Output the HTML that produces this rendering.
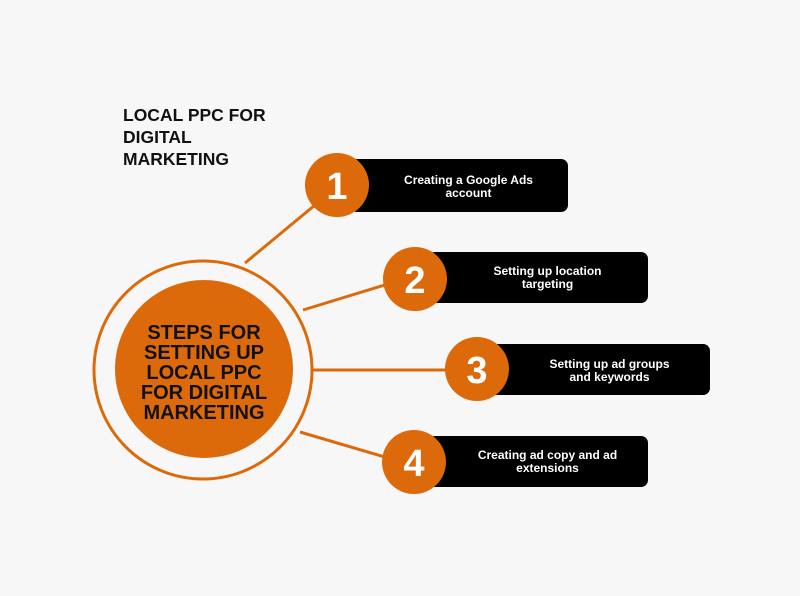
<!DOCTYPE html>
<html><head><style>
body{margin:0;width:800px;height:596px;background:#f7f7f7;overflow:hidden;font-family:"Liberation Sans",sans-serif;}
.t{position:absolute;left:123px;top:104px;font-weight:bold;font-size:17.5px;line-height:22px;color:#111;}
.box{position:absolute;background:#000;border-radius:7px;}
.bt{position:absolute;color:#fff;font-weight:bold;font-size:12px;line-height:13px;text-align:center;}
</style></head><body>
<div class="t">LOCAL PPC FOR<br>DIGITAL<br>MARKETING</div>
<div class="box" style="left:350px;top:159px;width:218px;height:53px"></div>
<div class="box" style="left:428px;top:252px;width:220px;height:51px"></div>
<div class="box" style="left:490px;top:344px;width:220px;height:51px"></div>
<div class="box" style="left:428px;top:436px;width:220px;height:51px"></div>
<div class="bt" style="left:369px;width:199px;top:174px">Creating a Google Ads<br>account</div>
<div class="bt" style="left:447px;width:201px;top:265px">Setting up location<br>targeting</div>
<div class="bt" style="left:509px;width:201px;top:358px">Setting up ad groups<br>and keywords</div>
<div class="bt" style="left:447px;width:201px;top:449px">Creating ad copy and ad<br>extensions</div>
<svg width="800" height="596" style="position:absolute;left:0;top:0">
<g stroke="#dd6a0a" stroke-width="3" fill="none">
<circle cx="203" cy="370" r="109"/>
<line x1="245" y1="263" x2="315" y2="205"/>
<line x1="303" y1="310" x2="388" y2="284"/>
<line x1="312" y1="370" x2="450" y2="370"/>
<line x1="300" y1="432" x2="388" y2="458"/>
</g>
<g fill="#dd6a0a">
<circle cx="204" cy="369" r="89"/>
<circle cx="337" cy="185" r="32"/>
<circle cx="415" cy="279" r="32"/>
<circle cx="477" cy="369" r="32"/>
<circle cx="414" cy="462" r="32"/>
</g>
<g fill="#fff" font-family="Liberation Sans,sans-serif" font-weight="bold" font-size="38" text-anchor="middle">
<text x="337" y="199">1</text>
<text x="415" y="293">2</text>
<text x="477" y="383">3</text>
<text x="414" y="476">4</text>
</g>
<g fill="#111" font-family="Liberation Sans,sans-serif" font-weight="bold" font-size="20" text-anchor="middle">
<text x="204" y="339">STEPS FOR</text>
<text x="204" y="359">SETTING UP</text>
<text x="204" y="379">LOCAL PPC</text>
<text x="204" y="399">FOR DIGITAL</text>
<text x="204" y="419">MARKETING</text>
</g>
</svg>
</body></html>
